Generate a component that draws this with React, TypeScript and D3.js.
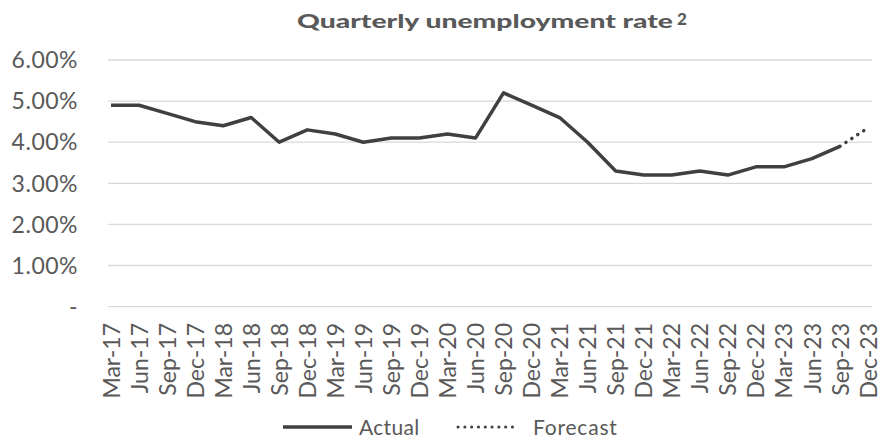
import React, { useEffect } from "react";
import * as d3 from "d3";

const categories = [
  "Mar-17","Jun-17","Sep-17","Dec-17",
  "Mar-18","Jun-18","Sep-18","Dec-18",
  "Mar-19","Jun-19","Sep-19","Dec-19",
  "Mar-20","Jun-20","Sep-20","Dec-20",
  "Mar-21","Jun-21","Sep-21","Dec-21",
  "Mar-22","Jun-22","Sep-22","Dec-22",
  "Mar-23","Jun-23","Sep-23","Dec-23",
];

const actual: (number | null)[] = [
  4.9, 4.9, 4.7, 4.5,
  4.4, 4.6, 4.0, 4.3,
  4.2, 4.0, 4.1, 4.1,
  4.2, 4.1, 5.2, 4.9,
  4.6, 4.0, 3.3, 3.2,
  3.2, 3.3, 3.2, 3.4,
  3.4, 3.6, 3.9, null,
];

const forecast: (number | null)[] = [
  null, null, null, null,
  null, null, null, null,
  null, null, null, null,
  null, null, null, null,
  null, null, null, null,
  null, null, null, null,
  null, null, 3.9, 4.35,
];

const yTicks = [0, 1, 2, 3, 4, 5, 6];

const W = 881;
const H = 442;
const FONT = "Lato, 'Open Sans', sans-serif";
const TEXT = "#595959";
const LINE = "#404040";
const GRID = "#d9d9d9";

export default function App() {
  useEffect(() => {
    document.body.style.margin = "0";
  }, []);

  const x = d3.scalePoint<string>().domain(categories).range([111, 868]);
  const y = d3.scaleLinear().domain([0, 6]).range([306.6, 60]);

  const line = d3
    .line<number | null>()
    .defined((d) => d !== null)
    .x((_, i) => x(categories[i]) as number)
    .y((d) => y(d as number));

  const fmt = (v: number) => (v === 0 ? "-" : v.toFixed(2) + "%");

  return (
    <svg width={W} height={H} style={{ display: "block", background: "#fff" }} fontFamily={FONT}>
      <text
        x={297}
        y={28}
        fontSize={19}
        fontWeight={900}
        fill={TEXT}
        textLength={376}
        lengthAdjust="spacingAndGlyphs"
      >
        Quarterly unemployment rate
      </text>
      <text x={677} y={25} fontSize={17} fontWeight={900} fill={TEXT}>2</text>

      {yTicks.map((t) => (
        <g key={t}>
          <line x1={108} x2={872} y1={y(t)} y2={y(t)} stroke={GRID} strokeWidth={1.3} />
          <text x={78} y={y(t)} dy="0.36em" textAnchor="end" fontSize={23} letterSpacing={0.5} fill={TEXT}>
            {fmt(t)}
          </text>
        </g>
      ))}

      <path d={line(actual) || ""} fill="none" stroke={LINE} strokeWidth={3.5} strokeLinejoin="round" />
      <path
        d={line(forecast) || ""}
        fill="none"
        stroke={LINE}
        strokeWidth={3.5}
        strokeDasharray="0.1 7"
        strokeLinecap="round"
      />

      {categories.map((c) => (
        <text
          key={c}
          transform={`translate(${(x(c) as number) + 1},323) rotate(-90)`}
          dy="0.33em"
          textAnchor="end"
          fontSize={23}
          fill={TEXT}
        >
          {c}
        </text>
      ))}

      <line x1={283} x2={352} y1={427} y2={427} stroke={LINE} strokeWidth={3.5} />
      <text x={359} y={435} fontSize={21} letterSpacing={0.3} fill={TEXT}>Actual</text>
      <line x1={458} x2={518} y1={427} y2={427} stroke={LINE} strokeWidth={3} strokeDasharray="0.1 6.7" strokeLinecap="round" />
      <text x={533} y={435} fontSize={21} letterSpacing={0.8} fill={TEXT}>Forecast</text>
    </svg>
  );
}
